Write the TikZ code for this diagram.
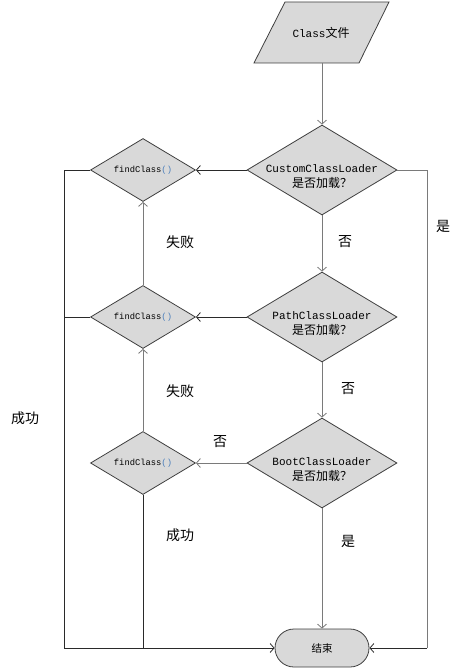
\documentclass[tikz,border=0pt]{standalone}
\usepackage{fontspec}
\setmonofont{Liberation Mono}
\newfontfamily\cjk{Noto Sans CJK SC}
\usetikzlibrary{shapes.geometric,shapes.misc,arrows.meta}
\definecolor{boxfill}{HTML}{D9D9D9}
\definecolor{boxline}{HTML}{3F3F3F}
\definecolor{flowgray}{HTML}{7A7A7A}
\definecolor{flowdark}{HTML}{2A2A2A}
\definecolor{parcol}{HTML}{4A7EBB}
\begin{document}
\begin{tikzpicture}[x=1pt,y=-1pt,
  bigdia/.style={diamond,draw=boxline,fill=boxfill,line width=0.8pt,inner sep=0pt,minimum width=150pt,minimum height=90pt},
  smalldia/.style={diamond,draw=boxline,fill=boxfill,line width=0.8pt,inner sep=0pt,minimum width=105pt,minimum height=63pt},
  txt/.style={align=center,inner sep=0pt,font=\ttfamily\fontsize{11pt}{15pt}\selectfont},
  fctxt/.style={inner sep=0pt,font=\ttfamily\fontsize{8.8pt}{10pt}\selectfont},
  lbl/.style={inner sep=0pt,font=\cjk\fontsize{14pt}{16pt}\selectfont},
  flow/.style={draw=flowgray,line width=0.9pt},
  flowk/.style={draw=flowdark,line width=0.9pt},
  arr/.style={-{Straight Barb[length=4pt,width=9pt,line width=0.8pt]}}]
\useasboundingbox (0,0) rectangle (461,669);
% start parallelogram
\fill[boxfill] (285,2) -- (389,2) -- (359,63) -- (254,63) -- cycle;
\draw[boxline,line width=0.8pt] (285,2) -- (389,2) -- (359,63) -- (254,63) -- cycle;
\node[txt] (start) at (321,33) {Class{\cjk\fontsize{12pt}{13pt}\selectfont 文件}};
\coordinate (startb) at (322,63);
% main diamonds
\node[bigdia] (d1) at (322,170) {};
\node[txt] (d1t) at (322,177) {CustomClassLoader\\{\cjk\fontsize{12pt}{14pt}\selectfont 是否加载？}};
\node[bigdia] (d2) at (322,317) {};
\node[txt] (d2t) at (322,324) {PathClassLoader\\{\cjk\fontsize{12pt}{14pt}\selectfont 是否加载？}};
\node[bigdia] (d3) at (322,463) {};
\node[txt] (d3t) at (322,470) {BootClassLoader\\{\cjk\fontsize{12pt}{14pt}\selectfont 是否加载？}};
% findClass diamonds
\node[smalldia] (f1) at (143,170) {};
\node[fctxt] (f1t) at (143,170) {findClass\textcolor{parcol}{()}};
\node[smalldia] (f2) at (143,317) {};
\node[fctxt] (f2t) at (143,317) {findClass\textcolor{parcol}{()}};
\node[smalldia] (f3) at (143,463) {};
\node[fctxt] (f3t) at (143,463) {findClass\textcolor{parcol}{()}};
% end
\node[rounded rectangle,draw=boxline,fill=boxfill,line width=0.8pt,minimum width=94pt,minimum height=38pt,inner sep=0pt,font=\cjk\fontsize{10.5pt}{12pt}\selectfont] (end) at (322,648) {结束};
% coordinates
\coordinate (rc) at (427,170);
\coordinate (rb) at (427,648);
\coordinate (lc) at (64,170);
\coordinate (lb) at (64,648);
\coordinate (l2) at (64,317);
\coordinate (mb) at (143,648);
% connectors
\draw[flow,arr] (startb) -- (d1.north);
\draw[flowk,arr] (d1.west) -- (f1.east);
\draw[flowk,arr] (d2.west) -- (f2.east);
\draw[flow,arr] (d3.west) -- (f3.east);
\draw[flow,arr] (d1.south) -- (d2.north);
\draw[flow,arr] (d2.south) -- (d3.north);
\draw[flow,arr] (d3.south) -- (end.north);
\draw[flow,arr] (f2.north) -- (f1.south);
\draw[flow,arr] (f3.north) -- (f2.south);
\draw[flow] (d1.east) -- (rc) -- (rb);
\draw[flowk,arr] (rb) -- (end.east);
\draw[flowk] (f1.west) -- (lc) -- (lb);
\draw[flowk] (f2.west) -- (l2);
\draw[flowk,arr] (lb) -- (end.west);
\draw[flowk] (f3.south) -- (mb);
% labels
\node[lbl] (s1) at (180,242) {失败};
\node[lbl] (s2) at (180,391) {失败};
\node[lbl] (n1) at (345,242) {否};
\node[lbl] (n2) at (348,389) {否};
\node[lbl] (n3) at (220,442) {否};
\node[lbl] (y1) at (443,226) {是};
\node[lbl] (y2) at (348,541) {是};
\node[lbl] (c1) at (25,418) {成功};
\node[lbl] (c2) at (180,535) {成功};
\end{tikzpicture}
\end{document}
